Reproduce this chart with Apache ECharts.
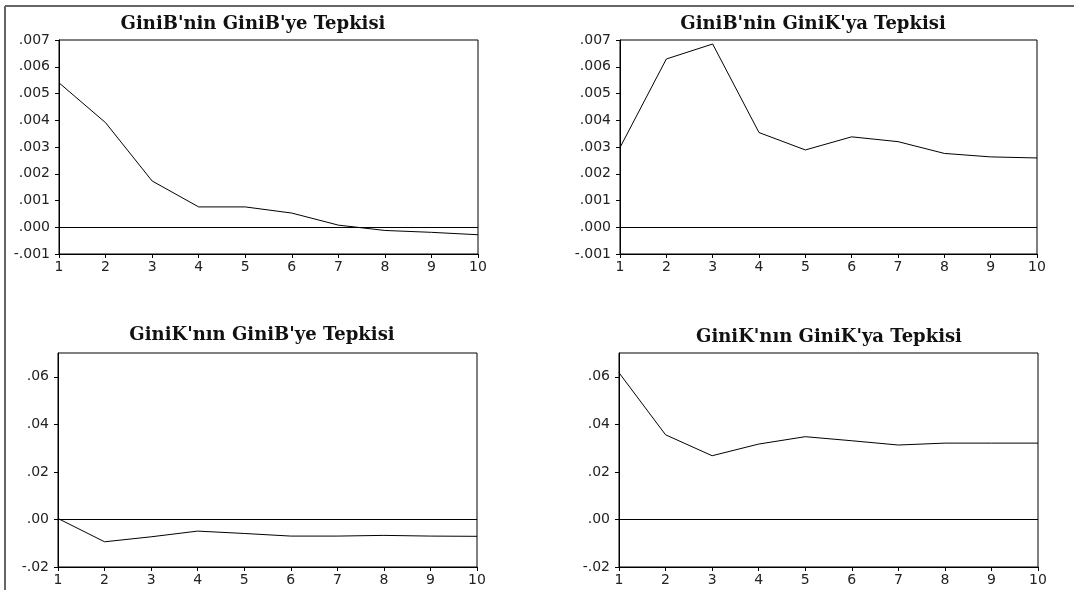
<!DOCTYPE html>
<html>
<head>
<meta charset="utf-8">
<script src="https://cdn.jsdelivr.net/npm/echarts@6/dist/echarts.min.js"></script>
<style>
html,body{margin:0;padding:0;background:#fff;}
#chart{width:1074px;height:590px;}
</style>
</head>
<body>
<div id="chart"></div>
<script>
// ---- data ----
const periods = ['1','2','3','4','5','6','7','8','9','10'];
const titles = ["GiniB'nin GiniB'ye Tepkisi", "GiniB'nin GiniK'ya Tepkisi", "GiniK'nın GiniB'ye Tepkisi", "GiniK'nın GiniK'ya Tepkisi"];
const giniBtoGiniB = [0.00540, 0.00391, 0.00173, 0.00076, 0.00076, 0.00053, 0.00008, -0.00012, -0.00019, -0.00028];
const giniBtoGiniK = [0.00298, 0.00629, 0.00685, 0.00354, 0.00289, 0.00338, 0.00320, 0.00276, 0.00263, 0.00259];
const giniKtoGiniB = [0.0004, -0.0094, -0.0073, -0.0049, -0.0059, -0.0070, -0.0070, -0.0067, -0.0070, -0.0071];
const giniKtoGiniK = [0.0617, 0.0356, 0.0268, 0.0317, 0.0348, 0.0331, 0.0313, 0.0321, 0.0321, 0.0321];
const topTicks = [-0.001, 0.000, 0.001, 0.002, 0.003, 0.004, 0.005, 0.006, 0.007];
const bottomTicks = [-0.02, 0.00, 0.02, 0.04, 0.06];
const topRange = [-0.001, 0.007];
const bottomRange = [-0.02, 0.07];

const seriesList = [giniBtoGiniB, giniBtoGiniK, giniKtoGiniB, giniKtoGiniK];
const grids = [
  {left: 59, top: 40, width: 419, height: 214},
  {left: 620, top: 40, width: 417, height: 214},
  {left: 58, top: 353, width: 419, height: 214},
  {left: 619, top: 353, width: 419, height: 214}
];
const titlePos = [[248, 10], [808, 10], [257, 321], [824, 323]];

function fmt(d) {
  return function (v) {
    if (Math.abs(v) < 1e-12) v = 0;
    return v.toFixed(d).replace(/^(-?)0\./, '$1.');
  };
}

const labelFont = {fontFamily: 'DejaVu Sans', fontSize: 14, color: '#222'};
const option = {
  backgroundColor: '#fff',
  animation: false,
  title: titles.map((t, i) => ({
    text: t,
    left: titlePos[i][0],
    top: titlePos[i][1],
    textAlign: 'center',
    textStyle: {fontFamily: 'DejaVu Serif', fontWeight: 'bold', fontSize: 18, color: '#111'}
  })),
  grid: grids.map(g => Object.assign({show: true, borderColor: '#000', borderWidth: 1, containLabel: false}, g)),
  xAxis: grids.map((g, i) => ({
    type: 'category',
    gridIndex: i,
    data: periods,
    boundaryGap: false,
    axisLine: {onZero: false, lineStyle: {color: '#000', width: 1}},
    axisTick: {show: true, inside: false, length: 4, lineStyle: {color: '#000'}},
    axisLabel: Object.assign({margin: 6, interval: 0}, labelFont),
    splitLine: {show: false}
  })),
  yAxis: grids.map((g, i) => {
    const top = i < 2;
    const ticks = top ? topTicks : bottomTicks;
    const range = top ? topRange : bottomRange;
    return {
      type: 'value',
      gridIndex: i,
      min: range[0],
      max: range[1],
      interval: top ? 0.001 : 0.01,
      axisLine: {show: true, onZero: false, lineStyle: {color: '#000', width: 1}},
      axisTick: {show: true, inside: false, length: 4, lineStyle: {color: '#000'}, customValues: ticks},
      axisLabel: Object.assign({margin: 9, formatter: fmt(top ? 3 : 2), customValues: ticks}, labelFont),
      splitLine: {show: false}
    };
  }),
  series: seriesList.map((s, i) => ({
    type: 'line',
    xAxisIndex: i,
    yAxisIndex: i,
    data: s,
    symbol: 'none',
    lineStyle: {color: '#000', width: 1},
    markLine: {
      silent: true,
      symbol: 'none',
      label: {show: false},
      lineStyle: {color: '#000', width: 1, type: 'solid'},
      data: [{yAxis: 0}]
    }
  })),
  graphic: [
    {type: 'line', shape: {x1: 5, y1: 6, x2: 1074, y2: 6}, style: {stroke: '#666', lineWidth: 2}},
    {type: 'line', shape: {x1: 5, y1: 6, x2: 5, y2: 590}, style: {stroke: '#666', lineWidth: 2}}
  ]
};

const chart = echarts.init(document.getElementById('chart'), null, {renderer: 'canvas'});
chart.setOption(option);
</script>
</body>
</html>
